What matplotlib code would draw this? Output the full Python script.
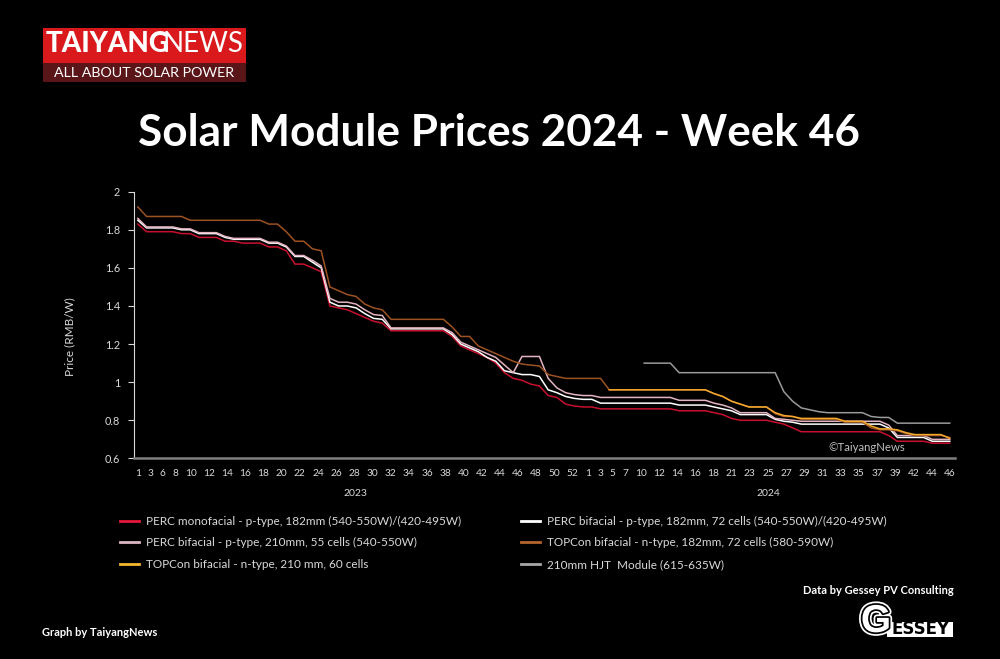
import numpy as np
import matplotlib
matplotlib.use("Agg")
import matplotlib.pyplot as plt
from matplotlib.patches import Rectangle
from matplotlib.lines import Line2D
import matplotlib.patheffects as pe

nan = np.nan

# category axis: calendar weeks, two years
weeks_2023 = [1, 2, 3, 4, 6, 7, 8, 9, 10, 11, 12, 13, 14, 15, 16, 17, 18, 19, 20, 21,
              22, 23, 24, 25, 26, 27, 28, 29, 30, 31, 32, 33, 34, 35, 36, 37, 38, 39, 40, 41,
              42, 43, 44, 45, 46, 47, 48, 49, 50, 51, 52]
weeks_2024 = [1, 2, 3, 4, 5, 6, 7, 8, 10, 11, 12, 13, 14, 15, 16, 17, 18, 19, 21, 22,
              23, 24, 25, 26, 27, 28, 29, 30, 31, 32, 33, 34, 35, 36, 37, 38, 39, 40, 42, 43,
              44, 45, 46]

# prices in RMB/W, one value per week above
perc_mono_182 = [
    1.83, 1.79, 1.79, 1.79, 1.79, 1.78, 1.78, 1.76, 1.76, 1.76,
    1.74, 1.74, 1.73, 1.73, 1.73, 1.71, 1.71, 1.69, 1.62, 1.62,
    1.60, 1.58, 1.40, 1.39, 1.38, 1.36, 1.34, 1.32, 1.31, 1.27,
    1.27, 1.27, 1.27, 1.27, 1.27, 1.27, 1.24, 1.19, 1.17, 1.15,
    1.13, 1.10, 1.05, 1.02, 1.01, 0.99, 0.98, 0.93, 0.92, 0.885,
    0.875, 0.87, 0.87, 0.86, 0.86, 0.86, 0.86, 0.86, 0.86, 0.86,
    0.86, 0.86, 0.85, 0.85, 0.85, 0.85, 0.84, 0.83, 0.81, 0.80,
    0.80, 0.80, 0.80, 0.79, 0.78, 0.76, 0.74, 0.74, 0.74, 0.74,
    0.74, 0.74, 0.74, 0.74, 0.74, 0.74, 0.72, 0.69, 0.69, 0.69,
    0.69, 0.68, 0.68, 0.68]
perc_bi_182 = [
    1.85, 1.81, 1.81, 1.81, 1.81, 1.80, 1.80, 1.78, 1.78, 1.78,
    1.76, 1.75, 1.75, 1.75, 1.75, 1.73, 1.73, 1.71, 1.66, 1.66,
    1.63, 1.60, 1.42, 1.40, 1.40, 1.39, 1.36, 1.335, 1.33, 1.28,
    1.28, 1.28, 1.28, 1.28, 1.28, 1.28, 1.25, 1.20, 1.18, 1.16,
    1.13, 1.11, 1.06, 1.05, 1.04, 1.04, 1.03, 0.96, 0.945, 0.925,
    0.915, 0.91, 0.91, 0.89, 0.89, 0.89, 0.89, 0.89, 0.89, 0.89,
    0.89, 0.89, 0.88, 0.88, 0.88, 0.88, 0.87, 0.86, 0.85, 0.83,
    0.83, 0.83, 0.83, 0.805, 0.795, 0.79, 0.78, 0.78, 0.78, 0.78,
    0.78, 0.78, 0.78, 0.78, 0.78, 0.78, 0.76, 0.71, 0.71, 0.71,
    0.71, 0.69, 0.69, 0.69]
perc_bi_210 = [
    1.86, 1.815, 1.815, 1.815, 1.815, 1.805, 1.805, 1.785, 1.785, 1.785,
    1.765, 1.755, 1.755, 1.755, 1.755, 1.735, 1.735, 1.715, 1.665, 1.665,
    1.64, 1.61, 1.44, 1.42, 1.42, 1.41, 1.38, 1.355, 1.35, 1.285,
    1.285, 1.285, 1.285, 1.285, 1.285, 1.285, 1.26, 1.21, 1.19, 1.17,
    1.15, 1.13, 1.09, 1.05, 1.135, 1.135, 1.135, 1.02, 0.97, 0.945,
    0.935, 0.93, 0.93, 0.92, 0.92, 0.92, 0.92, 0.92, 0.92, 0.92,
    0.92, 0.92, 0.905, 0.905, 0.905, 0.905, 0.89, 0.88, 0.865, 0.84,
    0.84, 0.84, 0.84, 0.81, 0.805, 0.80, 0.795, 0.795, 0.795, 0.795,
    0.795, 0.795, 0.795, 0.795, 0.795, 0.795, 0.775, 0.72, 0.72, 0.72,
    0.72, 0.70, 0.70, 0.70]
topcon_182 = [
    1.92, 1.87, 1.87, 1.87, 1.87, 1.87, 1.85, 1.85, 1.85, 1.85,
    1.85, 1.85, 1.85, 1.85, 1.85, 1.83, 1.83, 1.79, 1.74, 1.74,
    1.70, 1.69, 1.50, 1.48, 1.46, 1.45, 1.41, 1.39, 1.38, 1.33,
    1.33, 1.33, 1.33, 1.33, 1.33, 1.33, 1.29, 1.24, 1.24, 1.19,
    1.17, 1.15, 1.13, 1.11, 1.095, 1.09, 1.085, 1.04, 1.03, 1.02,
    1.02, 1.02, 1.02, 1.02, 0.96, 0.96, 0.96, 0.96, 0.96, 0.96,
    0.96, 0.96, 0.96, 0.96, 0.96, 0.96, 0.94, 0.925, 0.90, 0.885,
    0.87, 0.87, 0.87, 0.835, 0.82, 0.82, 0.805, 0.805, 0.805, 0.805,
    0.805, 0.79, 0.79, 0.79, 0.76, 0.75, 0.75, 0.745, 0.73, 0.72,
    0.72, 0.72, 0.72, 0.71]
topcon_210 = [
    nan, nan, nan, nan, nan, nan, nan, nan, nan, nan,
    nan, nan, nan, nan, nan, nan, nan, nan, nan, nan,
    nan, nan, nan, nan, nan, nan, nan, nan, nan, nan,
    nan, nan, nan, nan, nan, nan, nan, nan, nan, nan,
    nan, nan, nan, nan, nan, nan, nan, nan, nan, nan,
    nan, nan, nan, nan, 0.96, 0.96, 0.96, 0.96, 0.96, 0.96,
    0.96, 0.96, 0.96, 0.96, 0.96, 0.96, 0.94, 0.925, 0.90, 0.885,
    0.87, 0.87, 0.87, 0.84, 0.825, 0.82, 0.81, 0.81, 0.81, 0.81,
    0.81, 0.795, 0.795, 0.795, 0.77, 0.755, 0.755, 0.75, 0.735, 0.725,
    0.725, 0.725, 0.725, 0.705]
hjt_210 = [
    nan, nan, nan, nan, nan, nan, nan, nan, nan, nan,
    nan, nan, nan, nan, nan, nan, nan, nan, nan, nan,
    nan, nan, nan, nan, nan, nan, nan, nan, nan, nan,
    nan, nan, nan, nan, nan, nan, nan, nan, nan, nan,
    nan, nan, nan, nan, nan, nan, nan, nan, nan, nan,
    nan, nan, nan, nan, nan, nan, nan, nan, 1.10, 1.10,
    1.10, 1.10, 1.05, 1.05, 1.05, 1.05, 1.05, 1.05, 1.05, 1.05,
    1.05, 1.05, 1.05, 1.05, 0.95, 0.90, 0.865, 0.855, 0.845, 0.84,
    0.84, 0.84, 0.84, 0.84, 0.82, 0.815, 0.815, 0.785, 0.785, 0.785,
    0.785, 0.785, 0.785, 0.785]

series = [perc_mono_182, perc_bi_182, perc_bi_210, topcon_182, topcon_210, hjt_210]
names = ["PERC monofacial - p-type, 182mm (540-550W)/(420-495W)",
         "PERC bifacial - p-type, 182mm, 72 cells (540-550W)/(420-495W)",
         "PERC bifacial - p-type, 210mm, 55 cells (540-550W)",
         "TOPCon bifacial - n-type, 182mm, 72 cells (580-590W)",
         "TOPCon bifacial - n-type, 210 mm, 60 cells",
         "210mm HJT  Module (615-635W)"]
line_colours = ["#c8102e", "#ffffff", "#e2b4c0", "#9c5222", "#f2aa2e", "#9a9a9a"]
key_colours = ["#e8173a", "#ffffff", "#dcb7c2", "#b5652c", "#f5b92e", "#a8a8a8"]

y_ticks = [0.6, 0.8, 1.0, 1.2, 1.4, 1.6, 1.8, 2.0]
y_tick_labels = ["0.6", "0.8", "1", "1.2", "1.4", "1.6", "1.8", "2"]

TXT = "#d9d9d9"
plt.rcParams["font.family"] = ["Lato", "DejaVu Sans"]

W, H = 1000, 659
def fx(px):
    return px / W
def fy(py):
    return 1 - py / H

fig = plt.figure(figsize=(10, 6.59), dpi=100, facecolor="black")
ax = fig.add_axes([fx(134), fy(458.4), fx(955) - fx(134), (458.4 - 191.7) / H])
ax.set_facecolor("black")

weeks = weeks_2023 + weeks_2024
n23 = len(weeks_2023)
x = np.arange(len(weeks))
for vals, c in zip(series, line_colours):
    ax.plot(x, vals, color=c, lw=1.1, solid_joinstyle="miter")

ax.set_xlim(-0.44, 93.6)
ax.set_ylim(0.6, 2.0)
ax.set_yticks(y_ticks)
ax.set_yticklabels(y_tick_labels)

# every other week is labelled, restarting with each year; the source lays the
# labels out like running text, so single-digit labels sit closer together
tick_idx = [i for i in x if (i < n23 and i % 2 == 0) or (i >= n23 and (i - n23) % 2 == 0)]
tick_txt = [str(weeks[i]) for i in tick_idx]
DIGIT, GAP = 5.7, 6.9
steps = [(len(a) + len(b)) / 2 * DIGIT + GAP for a, b in zip(tick_txt[:-1], tick_txt[1:])]
cum = np.concatenate([[0], np.cumsum(steps)])
tick_pos = tick_idx[0] + cum / cum[-1] * (tick_idx[-1] - tick_idx[0])
ax.set_xticks(tick_pos)
ax.set_xticklabels(tick_txt)

for s in ["top", "right"]:
    ax.spines[s].set_visible(False)
ax.spines["left"].set_color(TXT)
ax.spines["left"].set_linewidth(0.8)
ax.spines["bottom"].set_color("#7f7f7f")
ax.spines["bottom"].set_linewidth(1.8)
ax.tick_params(axis="y", colors=TXT, labelsize=7.8, length=4, width=0.8, pad=6)
ax.tick_params(axis="x", colors=TXT, labelsize=7.3, length=0, pad=7.5)

n_t23 = sum(1 for i in tick_idx if i < n23)
yr_x = [(tick_pos[0] + tick_pos[n_t23 - 1]) / 2, (tick_pos[n_t23] + tick_pos[-1]) / 2]
for xx, yr in zip(yr_x, ["2023", "2024"]):
    ax.text(xx, -0.13, yr, transform=ax.get_xaxis_transform(), ha="center", va="center",
            color=TXT, fontsize=7.5)

ax.text(0.939, 0.04, "\u00a9TaiyangNews", transform=ax.transAxes, ha="right",
        va="center", color="#bfbfbf", fontsize=8.2)

fig.text(fx(70), fy(337), "Price (RMB/W)", rotation=90, ha="center", va="center",
         color=TXT, fontsize=8.5)

fig.text(0.499, fy(133), "Solar Module Prices 2024 - Week 46", ha="center", va="center",
         color="white", fontsize=31.8, fontweight="bold")

# logo
fig.add_artist(Rectangle((fx(42.7), fy(63.3)), fx(246) - fx(42.7), 35 / H,
                         transform=fig.transFigure, color="#d9191c", lw=0))
fig.add_artist(Rectangle((fx(42.7), fy(81.7)), fx(246) - fx(42.7), 18.4 / H,
                         transform=fig.transFigure, color="#5a1518", lw=0))
fig.text(fx(46), fy(52), "TAIYANG", ha="left", va="baseline", color="white",
         fontsize=20, fontweight="black")
fig.text(fx(243), fy(52), "NEWS", ha="right", va="baseline", color="white", fontsize=20)
fig.text(fx(144.3), fy(73), "ALL ABOUT SOLAR POWER", ha="center", va="center",
         color="white", fontsize=10.3)

# legend, two columns
handles = [Line2D([], [], color=c, lw=2) for c in key_colours]
for col, x0 in [([0, 2, 4], 120), ([1, 3, 5], 521)]:
    fig.legend([handles[i] for i in col], [names[i] for i in col], loc="upper left",
               bbox_to_anchor=(fx(x0), fy(516)), frameon=False, fontsize=8.5,
               labelcolor=TXT, handlelength=1.6, handletextpad=0.6, labelspacing=0.88,
               borderpad=0, borderaxespad=0)

fig.text(fx(954), fy(590), "Data by Gessey PV Consulting", ha="right", va="center",
         color="white", fontsize=8, fontweight="bold")
fig.text(fx(42), fy(633), "Graph by TaiyangNews", ha="left", va="center",
         color="white", fontsize=8, fontweight="bold")

fig.add_artist(Rectangle((fx(886.7), fy(636.7)), fx(953) - fx(886.7), 15 / H,
                         transform=fig.transFigure, color="white", lw=0))
fig.text(fx(921), fy(629.5), "ESSEY", ha="center", va="center", color="black",
         fontsize=12, fontweight="bold", family=["Liberation Sans Narrow", "DejaVu Sans"])
g = fig.text(fx(876), fy(622), "G", ha="center", va="center", color="white",
             fontsize=28, fontweight="bold", family=["Liberation Sans", "DejaVu Sans"])
g.set_path_effects([pe.Stroke(linewidth=5, foreground="white"),
                    pe.Stroke(linewidth=2.5, foreground="black"), pe.Normal()])

fig.savefig("out.png", dpi=100, facecolor="black")
